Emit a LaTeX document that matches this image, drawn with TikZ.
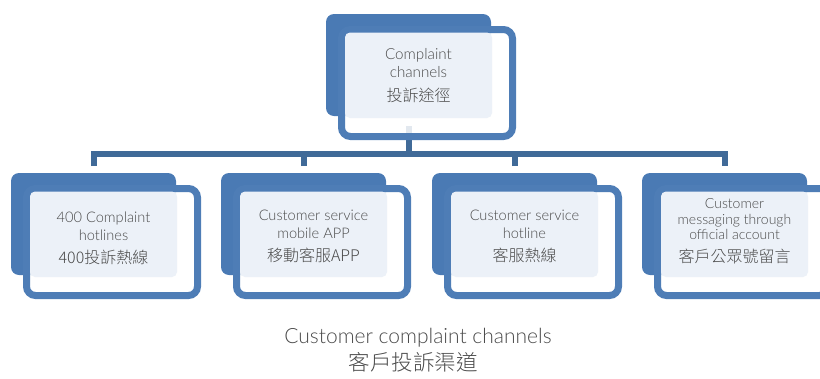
\documentclass[tikz,border=0pt]{standalone}
\usepackage{fontspec}
\setmainfont{Lato}[UprightFont=* Light]
\newfontfamily\cjk{Noto Sans CJK TC}[UprightFont=* Light]
\definecolor{backblue}{HTML}{4A7AB4}
\definecolor{frontblue}{HTML}{4E7DB6}
\definecolor{connblue}{HTML}{406A98}
\definecolor{lightfill}{HTML}{ECF1F8}
\definecolor{txt}{HTML}{4A4A4A}
\tikzset{
  backbox/.style={rectangle, fill=backblue, rounded corners=8pt, minimum width=165pt, minimum height=102pt, anchor=north west, inner sep=0pt, outer sep=0pt},
  frontbox/.style={rectangle, draw=frontblue, line width=7pt, fill=white, fill opacity=0.85, rounded corners=9pt, minimum width=171pt, minimum height=107pt, anchor=north west, inner sep=0pt, outer sep=0pt},
  lightbox/.style={rectangle, fill=lightfill, rounded corners=5pt, minimum width=147pt, minimum height=85.5pt, anchor=north west, inner sep=0pt, outer sep=0pt},
  boxtext/.style={align=center, text=txt, font=\fontsize{14.6}{18}\selectfont, inner sep=0pt},
  conn/.style={draw=connblue, line width=6pt},
}
\newcommand\cjkline[1]{{\cjk\fontsize{16}{18}\selectfont #1}}
\newcommand\backpart[3]{\node[backbox] (#1back) at (#2,#3) {};}
\newcommand\frontpart[3]{%
  \node[frontbox] (#1front) at (#2+15.5,#3+15.5) {};
  \node[lightbox] (#1light) at (#2+19,#3+18.5) {};}
\begin{document}
\begin{tikzpicture}[x=1pt,y=-1pt]
\useasboundingbox (0,0) rectangle (820,378);
% back plates
\backpart{t}{326}{14}
\backpart{b1}{11}{173}
\backpart{b2}{221}{173}
\backpart{b3}{432}{173}
\backpart{b4}{642}{173}
% connectors
\coordinate (hub) at (409,153.5);
\coordinate (td) at ([yshift=-10pt]tback.south);
\coordinate (d1) at ([yshift=7pt]b1back.north);
\coordinate (d2) at ([yshift=7pt]b2back.north);
\coordinate (d3) at ([yshift=7pt]b3back.north);
\coordinate (d4) at ([yshift=7pt]b4back.north);
\draw[conn] (td) -- (td |- hub);
\draw[conn] (d1) -- (d1 |- hub) -- (d4 |- hub) -- (d4);
\draw[conn] (d2) -- (d2 |- hub);
\draw[conn] (d3) -- (d3 |- hub);
% front plates
\frontpart{t}{326}{14}
\frontpart{b1}{11}{173}
\frontpart{b2}{221}{173}
\frontpart{b3}{432}{173}
\frontpart{b4}{642}{173}
% texts
\node[boxtext, font=\fontsize{15.2}{18}\selectfont] (ttext) at (tlight.center |- 0,76) {Complaint\\channels\\[6pt]\cjkline{投訴途徑}};
\node[boxtext] (b1text) at (b1light.center |- 0,238.5) {400 Complaint\\hotlines\\[5pt]\cjkline{400投訴熱線}};
\node[boxtext] (b2text) at (b2light.center |- 0,236.5) {Customer service\\mobile APP\\[5pt]\cjkline{移動客服APP}};
\node[boxtext] (b3text) at (b3light.center |- 0,236.5) {Customer service\\hotline\\[5pt]\cjkline{客服熱線}};
\node[boxtext, font=\fontsize{14}{15.5}\selectfont] (b4text) at (b4light.center |- 0,231) {Customer\\messaging through\\official account\\[7pt]\cjkline{客戶公眾號留言}};
% caption
\node[text=txt, font=\fontsize{21}{24}\selectfont, inner sep=0pt] (cap1) at (418,338) {Customer complaint channels};
\node[text=txt, font=\cjk\fontsize{21.5}{24}\selectfont, inner sep=0pt] (cap2) at (413,362) {客戶投訴渠道};
\end{tikzpicture}
\end{document}
